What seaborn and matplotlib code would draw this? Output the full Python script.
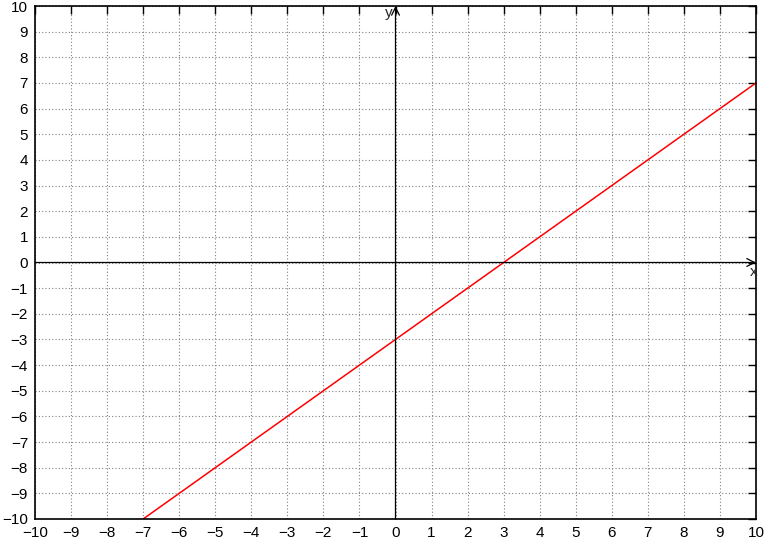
import numpy as np
import pandas as pd
import matplotlib
matplotlib.use('Agg')
import matplotlib.pyplot as plt
import seaborn as sns

# line y = x - 3
x_vals = [-7, 10]
y_vals = [-10, 7]
ticks = list(range(-10, 11))

sns.set_style('white')
plt.rcParams['font.family'] = ['Liberation Sans', 'DejaVu Sans']

fig = plt.figure(figsize=(7.66, 5.42), dpi=100)
ax = fig.add_axes([35/766, 1-519/542, (756-35)/766, (519-6)/542])

df = pd.DataFrame({'x': x_vals, 'y': y_vals})
sns.lineplot(data=df, x='x', y='y', color='red', linewidth=1.1, ax=ax)

ax.set_xlim(-10, 10)
ax.set_ylim(-10, 10)
ax.set_xticks(ticks)
ax.set_yticks(ticks)
ax.set_xlabel('')
ax.set_ylabel('')
ax.grid(True, color='#808080', linestyle=(0, (1, 2)), linewidth=0.8)
ax.set_axisbelow(True)
ax.tick_params(direction='in', length=6, width=1, top=True, right=True,
               labelsize=11, colors='black', pad=5)
for s in ax.spines.values():
    s.set_color('black')
    s.set_linewidth(1.2)

# zero axes with arrowheads
ax.annotate('', xy=(10, 0), xytext=(-10, 0),
            arrowprops=dict(arrowstyle='->', color='black', lw=0.9,
                            shrinkA=0, shrinkB=0, mutation_scale=14))
ax.annotate('', xy=(0, 10), xytext=(0, -10),
            arrowprops=dict(arrowstyle='->', color='black', lw=0.9,
                            shrinkA=0, shrinkB=0, mutation_scale=14))
ax.text(9.93, -0.1, 'x', ha='center', va='top', fontsize=11)
ax.text(-0.08, 10.0, 'y', ha='right', va='top', fontsize=11)

fig.savefig('out.png', dpi=100)
